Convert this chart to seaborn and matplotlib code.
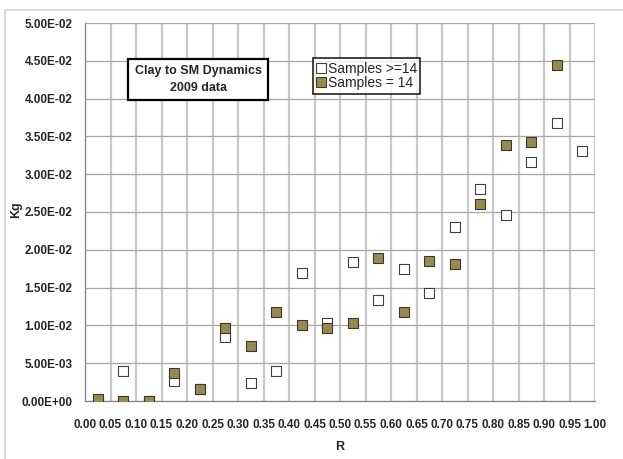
import seaborn as sns
import matplotlib.pyplot as plt
import pandas as pd
from matplotlib.patches import Rectangle
from matplotlib.lines import Line2D
from matplotlib.ticker import FuncFormatter

# bin centres of R
r_all = [0.025, 0.075, 0.125, 0.175, 0.225, 0.275, 0.325, 0.375, 0.425, 0.475,
         0.525, 0.575, 0.625, 0.675, 0.725, 0.775, 0.825, 0.875, 0.925, 0.975]
kg_all = [0.0, 0.0040, 0.0, 0.0027, 0.0016, 0.0084, 0.0024, 0.0040, 0.0169, 0.0103,
          0.0184, 0.0134, 0.0175, 0.0143, 0.0230, 0.0280, 0.0246, 0.0316, 0.0368, 0.0331]

r_14 = [0.025, 0.075, 0.125, 0.175, 0.225, 0.275, 0.325, 0.375, 0.425, 0.475,
        0.525, 0.575, 0.625, 0.675, 0.725, 0.775, 0.825, 0.875, 0.925]
kg_14 = [0.0002, 0.0, 0.0, 0.0037, 0.0016, 0.0097, 0.0073, 0.0118, 0.0100, 0.0096,
         0.0103, 0.0189, 0.0118, 0.0185, 0.0181, 0.0261, 0.0338, 0.0342, 0.0444]

df_all = pd.DataFrame({'R': r_all, 'Kg': kg_all})
df_14 = pd.DataFrame({'R': r_14, 'Kg': kg_14})

sns.set_style('white')
plt.rcParams['font.family'] = ['Liberation Sans Narrow', 'Liberation Sans', 'DejaVu Sans']

fig = plt.figure(figsize=(6.23, 4.59), dpi=100)
ax = fig.add_axes([85 / 623, 1 - 401 / 459, 510 / 623, 378 / 459])

olive = '#948A54'
sns.scatterplot(data=df_all, x='R', y='Kg', marker='s', s=52, color='white',
                edgecolor='#404040', linewidth=0.8, ax=ax, zorder=3)
sns.scatterplot(data=df_14, x='R', y='Kg', marker='s', s=52, color=olive,
                edgecolor='#3F3A22', linewidth=0.8, ax=ax, zorder=4)

ax.set_xlim(0, 1.0)
ax.set_ylim(0, 0.05)
ax.set_xticks([i * 0.05 for i in range(21)])
ax.set_yticks([i * 0.005 for i in range(11)])
ax.xaxis.set_major_formatter(FuncFormatter(lambda v, p: f'{v:.2f}'))
ax.yaxis.set_major_formatter(FuncFormatter(lambda v, p: f'{v:.2E}'))
ax.grid(True, axis='x', color='#C8C8C8', lw=1.6)
ax.grid(True, axis='y', color='#A6A6A6', lw=0.9)
for s in ['top', 'right']:
    ax.spines[s].set_visible(False)
for s in ['left', 'bottom']:
    ax.spines[s].set_color('#868686')
    ax.spines[s].set_linewidth(0.9)
ax.tick_params(axis='both', direction='out', length=5, width=0.9, color='#868686',
               labelsize=8.5, pad=4)
ax.tick_params(axis='x', pad=8)
for lab in ax.get_xticklabels() + ax.get_yticklabels():
    lab.set_fontweight('bold')

ax.set_xlabel('')
ax.set_ylabel('')
fig.text(340 / 623, 1 - 447 / 459, 'R', ha='center', va='center', fontsize=9, fontweight='bold')
fig.text(16 / 623, 1 - 210 / 459, 'Kg', ha='center', va='center', rotation=90,
         fontsize=9, fontweight='bold')

ax.text(0.222, 0.0425, 'Clay to SM Dynamics\n2009 data', ha='center', va='center',
        fontsize=9, fontweight='bold', linespacing=1.5,
        bbox=dict(boxstyle='square,pad=0.5', fc='white', ec='black', lw=1.6))

handles = [Line2D([], [], ls='', marker='s', ms=7, mfc='white', mec='#404040', mew=0.8),
           Line2D([], [], ls='', marker='s', ms=7, mfc=olive, mec='#3F3A22', mew=0.8)]
leg = ax.legend(handles, ['Samples >=14', 'Samples = 14'], loc='upper left',
                bbox_to_anchor=(0.447, 0.907), frameon=True, fancybox=False,
                fontsize=10, handlelength=0.6, handletextpad=0.2, borderpad=0.25,
                labelspacing=0.05, borderaxespad=0)
leg.get_frame().set_edgecolor('black')
leg.get_frame().set_linewidth(1.3)

fig.patches.append(Rectangle((5 / 623, -0.2), 1.2, 1.2 - 10 / 459, transform=fig.transFigure,
                             fill=False, ec='#D9D9D9', lw=1.5))

fig.savefig('out.png', dpi=100)
